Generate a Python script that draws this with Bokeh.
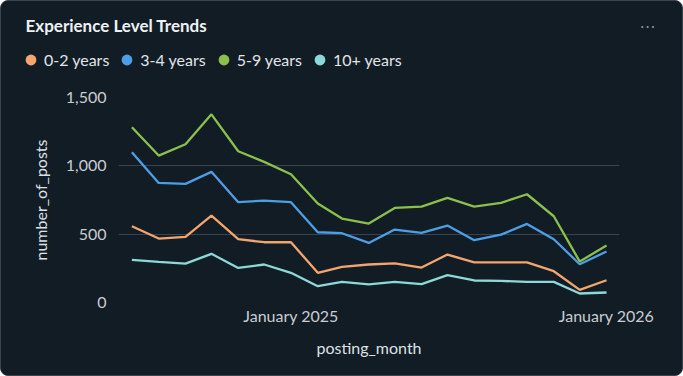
from datetime import datetime
import pandas as pd
from bokeh.plotting import figure
from bokeh.layouts import column
from bokeh.models import (Range1d, FixedTicker, DatetimeTickFormatter, Legend, LegendItem,
                          Label, NumeralTickFormatter)
from bokeh.embed import file_html
from bokeh.resources import INLINE

# ---------------- data ----------------
months = pd.date_range("2024-07-01", "2026-01-01", freq="MS")
series_names = ["0-2 years", "3-4 years", "5-9 years", "10+ years"]
posts_0_2 = [558, 468, 480, 636, 463, 441, 441, 217, 260, 278, 287, 256, 351, 293, 293, 293, 229, 92, 163]
posts_3_4 = [1099, 875, 868, 956, 734, 746, 734, 514, 507, 436, 534, 509, 563, 456, 497, 575, 463, 280, 373]
posts_5_9 = [1282, 1075, 1158, 1377, 1107, 1029, 938, 724, 614, 578, 692, 702, 765, 702, 729, 792, 631, 300, 417]
posts_10p = [312, 297, 285, 356, 253, 278, 217, 119, 151, 132, 151, 134, 200, 161, 158, 151, 151, 66, 73]
series_values = [posts_0_2, posts_3_4, posts_5_9, posts_10p]
colors = ["#f4a56e", "#4c9fe6", "#8cc04c", "#8dd8d8"]
y_ticks = [0, 500, 1000, 1500]
x_ticks = [datetime(2025, 1, 1), datetime(2026, 1, 1)]
title_text = "Experience Level Trends"

BG = "#121c25"
FONT = "Lato"
HEADER_H = 80

# ---------------- header (title + legend) ----------------
h = figure(width=681, height=HEADER_H, output_backend="svg", toolbar_location=None,
           x_range=Range1d(0, 1), y_range=Range1d(0, 1),
           x_axis_location=None, y_axis_location=None,
           min_border=0, min_border_left=0, min_border_right=0,
           min_border_top=0, min_border_bottom=0)
h.background_fill_color = BG
h.border_fill_color = BG
h.outline_line_color = None
h.grid.visible = False

items = []
for name, c in zip(series_names, colors):
    # one point outside the visible range, so only the legend swatch shows
    dot = h.scatter(x=[-5], y=[-5], marker="circle", size=11, fill_color=c, line_color=None)
    items.append(LegendItem(label=name, renderers=[dot]))

legend = Legend(items=items, orientation="horizontal", location=(16, HEADER_H - 72),
                glyph_width=27, glyph_height=27, label_standoff=-4, spacing=4,
                padding=0, margin=0, background_fill_alpha=0, border_line_color=None,
                label_text_font=FONT, label_text_font_size="16px",
                label_text_color="#e1e4e8", label_text_baseline="middle")
h.add_layout(legend)

h.add_layout(Label(x=24, y=HEADER_H - 24, x_units="screen", y_units="screen",
                   text=title_text, text_font=FONT,
                   text_font_size="17px", text_font_style="bold", text_color="#eef1f4",
                   text_baseline="middle"))
h.add_layout(Label(x=646, y=HEADER_H - 25, x_units="screen", y_units="screen",
                   text="⋯", text_font="DejaVu Sans",
                   text_font_size="16px", text_color="#8b939b",
                   text_baseline="middle", text_align="center"))

# ---------------- main chart ----------------
p = figure(width=681, height=374 - HEADER_H, x_axis_type="datetime",
           output_backend="svg", toolbar_location=None,
           x_range=Range1d(datetime(2024, 6, 15, 12), datetime(2026, 1, 16)),
           y_range=Range1d(0, 1500),
           min_border_left=117, min_border_right=63,
           min_border_top=96 - HEADER_H, min_border_bottom=73)
p.background_fill_color = BG
p.border_fill_color = BG
p.outline_line_color = None

for fig in (h, p):
    try:
        fig.frame_align = False
    except Exception:
        pass

p.xgrid.visible = False
p.ygrid.ticker = FixedTicker(ticks=y_ticks)
p.ygrid.grid_line_color = "#3a434d"
p.ygrid.grid_line_width = 1

for ax in (p.xaxis[0], p.yaxis[0]):
    ax.axis_line_color = None
    ax.major_tick_line_color = None
    ax.minor_tick_line_color = None
    ax.major_tick_out = 0
    ax.major_tick_in = 0
    ax.minor_tick_out = 0
    ax.minor_tick_in = 0
    ax.major_label_text_font = FONT
    ax.major_label_text_font_size = "16px"
    ax.major_label_text_color = "#c9cdd2"
    ax.axis_label_text_font = FONT
    ax.axis_label_text_font_size = "16px"
    ax.axis_label_text_font_style = "normal"
    ax.axis_label_text_color = "#dde1e5"

p.yaxis.ticker = FixedTicker(ticks=y_ticks)
p.yaxis.formatter = NumeralTickFormatter(format="0,0")
p.yaxis.axis_label = "number_of_posts"
p.yaxis.major_label_standoff = 12
p.yaxis.axis_label_standoff = 13

p.xaxis.ticker = FixedTicker(ticks=[d.timestamp() * 1000 for d in x_ticks])
fmt = "%B %Y"
p.xaxis.formatter = DatetimeTickFormatter(milliseconds=fmt, seconds=fmt, minsec=fmt, minutes=fmt,
                                          hourmin=fmt, hours=fmt, days=fmt, months=fmt, years=fmt)
p.xaxis.axis_label = "posting_month"
p.xaxis.major_label_standoff = 3
p.xaxis.axis_label_standoff = 10

for name, vals, c in zip(series_names, series_values, colors):
    p.line(x=months, y=vals, line_color=c, line_width=2.3)

layout = column(h, p, spacing=0,
                styles={"border": "1px solid #3a4550", "border-radius": "8px",
                        "overflow": "hidden", "background-color": BG})

open("out.html", "w").write(file_html(layout, INLINE))
